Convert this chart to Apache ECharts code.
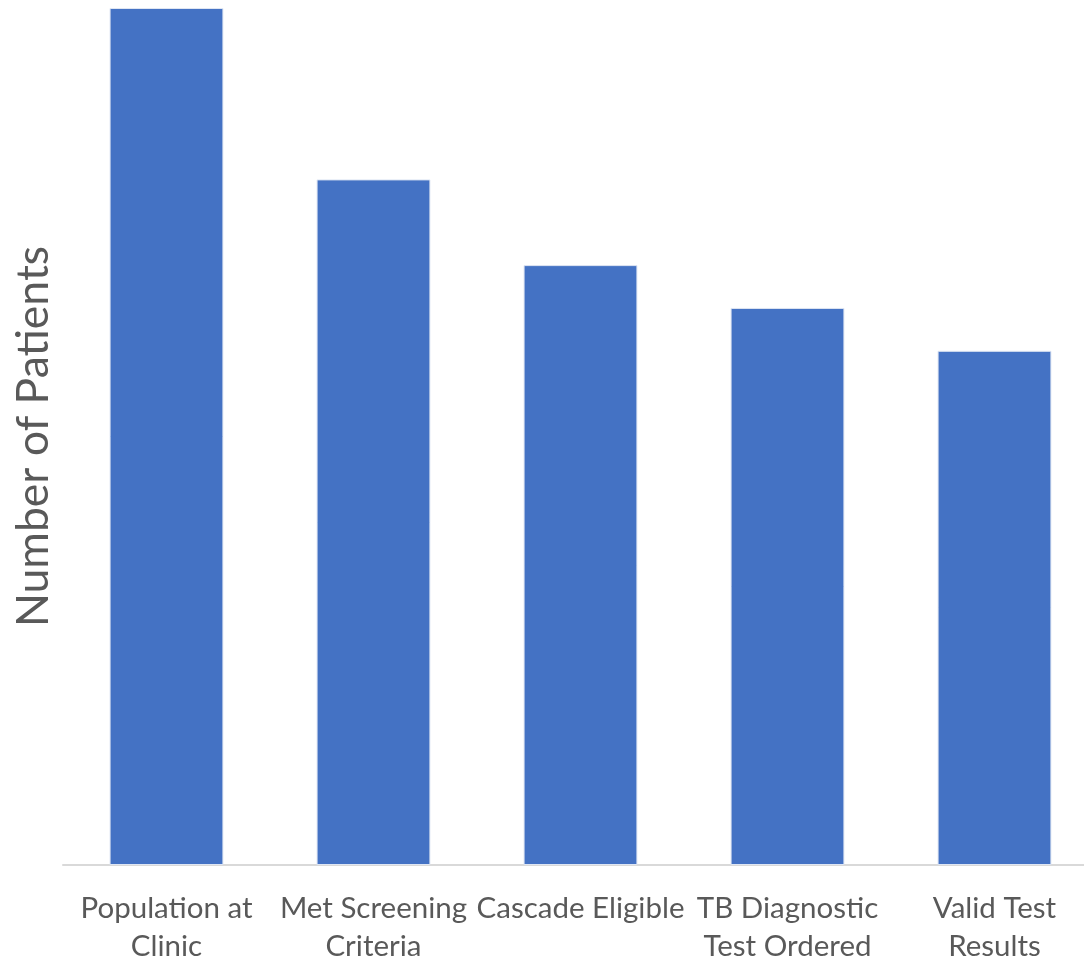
<!DOCTYPE html>
<html>
<head>
<meta charset="utf-8">
<script src="https://cdn.jsdelivr.net/npm/echarts@6/dist/echarts.min.js"></script>
<style>
  html, body { margin: 0; padding: 0; background: #ffffff; overflow: hidden; }
  #chart { width: 1084px; height: 960px; }
</style>
</head>
<body>
<div id="chart"></div>
<script>
// Patient care cascade: each stage as a share of the clinic population
const categories = [
  'Population at\nClinic',
  'Met Screening\nCriteria',
  'Cascade Eligible',
  'TB Diagnostic\nTest Ordered',
  'Valid Test\nResults'
];
const patients = [100, 80, 70, 65, 60];
const yAxisName = 'Number of Patients';

const FONT = 'Lato, "Open Sans", sans-serif';

const chart = echarts.init(document.getElementById('chart'));
chart.setOption({
  animation: false,
  textStyle: { fontFamily: FONT },
  // plot runs slightly past the right edge, so the last category is cut off
  grid: {
    left: 63, width: 1035, top: 8, bottom: 95,
    containLabel: false,
    outerBoundsMode: 'none'
  },
  xAxis: {
    type: 'category',
    data: categories,
    axisLine: { show: true, lineStyle: { color: '#d9d9d9', width: 2 } },
    axisTick: { show: false },
    axisLabel: {
      interval: 0,
      color: '#595959',
      fontSize: 29.5,
      lineHeight: 38,
      margin: 24,
      fontFamily: FONT
    }
  },
  yAxis: {
    type: 'value',
    min: 0,
    max: 100,
    name: yAxisName,
    nameLocation: 'middle',
    nameGap: 7,
    nameTextStyle: { color: '#595959', fontSize: 44.5, fontFamily: FONT },
    axisLine: { show: false },
    axisTick: { show: false },
    axisLabel: { show: false },
    splitLine: { show: false }
  },
  series: [{
    type: 'bar',
    data: patients,
    barWidth: '55%',
    itemStyle: { color: '#4472c4', borderColor: '#dfe6f3', borderWidth: 1 }
  }]
});
</script>
</body>
</html>
